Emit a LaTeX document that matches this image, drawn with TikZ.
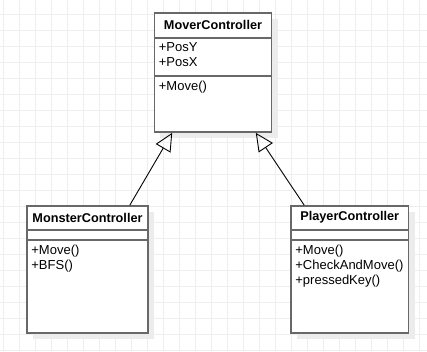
\documentclass[tikz,border=0pt]{standalone}
\usepackage{fontspec}
\setmainfont{Liberation Sans}
\usetikzlibrary{arrows.meta,calc}

\definecolor{gridline}{RGB}{238,238,238}
\definecolor{boxline}{RGB}{104,104,104}
\definecolor{shade}{RGB}{236,236,236}

\tikzset{
  classbox/.style={draw=boxline, line width=1.6pt, fill=white, inner sep=0pt},
  boxshadow/.style={fill=shade, draw=none},
  sepline/.style={draw=boxline, line width=1.6pt},
  classtitle/.style={font=\fontsize{12.7}{15}\selectfont\bfseries, inner sep=0pt},
  member/.style={font=\fontsize{13}{15}\selectfont, anchor=west, inner sep=0pt},
  inherits/.style={draw=black, line width=0.9pt,
    -{Triangle[open, length=18pt, width=17pt, line width=0.9pt]}},
}

\begin{document}
\begin{tikzpicture}[x=1pt, y=-1pt]
  \useasboundingbox (0,0) rectangle (427,351);
  \fill[white] (0,0) rectangle (427,351);
  % background grid
  \foreach \gx in {3,19,...,419} \draw[gridline, line width=1pt] (\gx,0) -- (\gx,351);
  \foreach \gy in {14,30,...,350} \draw[gridline, line width=1pt] (0,\gy) -- (427,\gy);

  % shadows
  \fill[boxshadow] (160,19) rectangle (277.5,138);
  \fill[boxshadow] (33,212) rectangle (154,339);
  \fill[boxshadow] (297,212) rectangle (414.5,339);

  % MoverController
  \node[classbox, minimum width=117pt, minimum height=119pt] (mover) at (213,72.5) {};
  \draw[sepline] ($(mover.north west)+(0,25.5)$) -- ($(mover.north east)+(0,25.5)$);
  \draw[sepline] ($(mover.north west)+(0,63.5)$) -- ($(mover.north east)+(0,63.5)$);
  \node[classtitle] (moverT) at ($(mover.north)+(0,13)$) {MoverController};
  \node[member] (moverA1) at ($(mover.north west)+(5,35)$) {+PosY};
  \node[member] (moverA2) at ($(mover.north west)+(5,50)$) {+PosX};
  \node[member] (moverM1) at ($(mover.north west)+(5,74.5)$) {+Move()};

  % MonsterController
  \node[classbox, minimum width=121pt, minimum height=127pt] (monster) at (87.5,269.5) {};
  \draw[sepline] ($(monster.north west)+(0,24.5)$) -- ($(monster.north east)+(0,24.5)$);
  \draw[sepline] ($(monster.north west)+(0,34.5)$) -- ($(monster.north east)+(0,34.5)$);
  \node[classtitle] (monsterT) at ($(monster.north)+(0,12.5)$) {MonsterController};
  \node[member] (monsterM1) at ($(monster.north west)+(5,46)$) {+Move()};
  \node[member] (monsterM2) at ($(monster.north west)+(5,61)$) {+BFS()};

  % PlayerController
  \node[classbox, minimum width=117.5pt, minimum height=127pt] (player) at (349.75,269.5) {};
  \draw[sepline] ($(player.north west)+(0,24.5)$) -- ($(player.north east)+(0,24.5)$);
  \draw[sepline] ($(player.north west)+(0,34.5)$) -- ($(player.north east)+(0,34.5)$);
  \node[classtitle] (playerT) at ($(player.north)+(0,12.5)$) {PlayerController};
  \node[member] (playerM1) at ($(player.north west)+(5,46)$) {+Move()};
  \node[member] (playerM2) at ($(player.north west)+(5,61)$) {+CheckAndMove()};
  \node[member] (playerM3) at ($(player.north west)+(5,76)$) {+pressedKey()};

  % generalisation arrows
  \draw[inherits] ($(monster.north east)+(-19,0)$) -- ($(mover.south west)+(18.5,0)$);
  \draw[inherits] ($(player.north west)+(14,0)$) -- ($(mover.south east)+(-16.5,0)$);
\end{tikzpicture}
\end{document}
